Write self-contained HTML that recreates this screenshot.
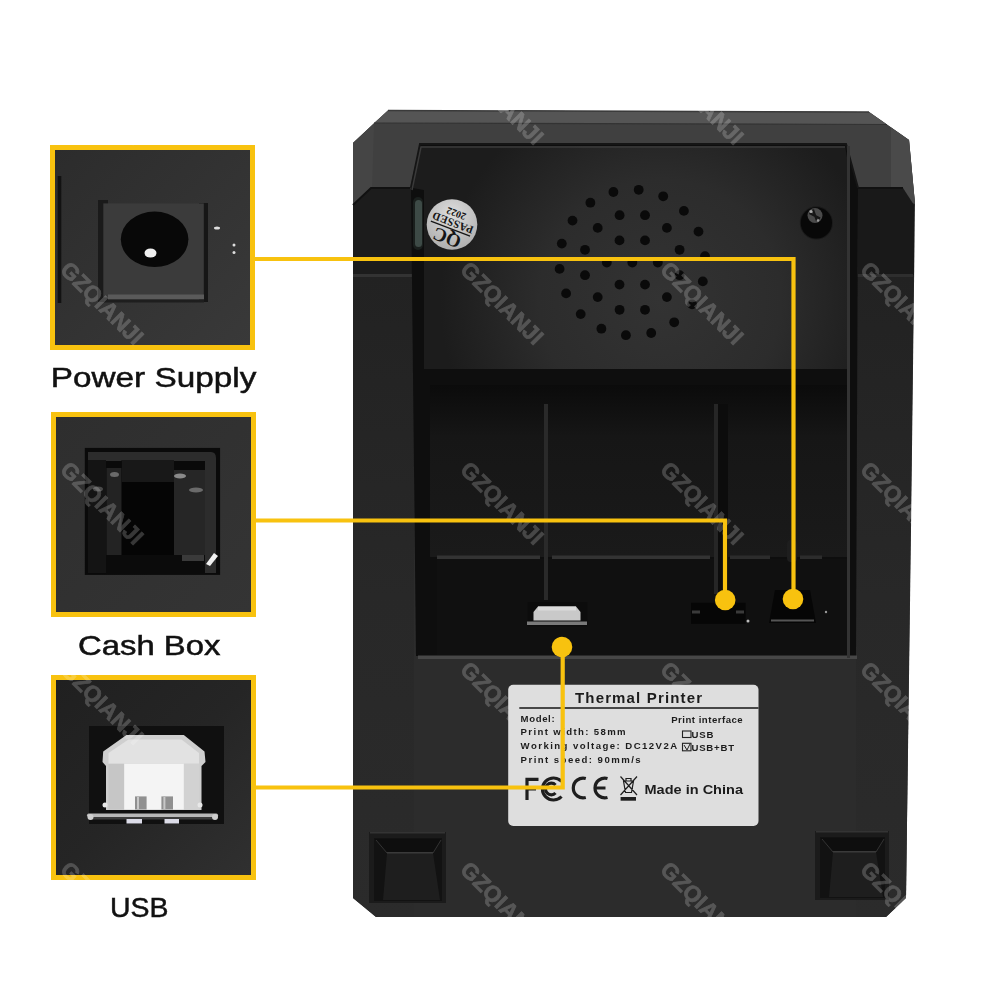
<!DOCTYPE html>
<html><head><meta charset="utf-8"><style>
html,body{margin:0;padding:0;background:#fff;width:1000px;height:1000px;overflow:hidden}
svg{display:block}
</style></head><body>
<svg width="1000" height="1000" viewBox="0 0 1000 1000">
<defs>
<linearGradient id="gCol" gradientUnits="userSpaceOnUse" x1="0" y1="275" x2="0" y2="917">
<stop offset="0" stop-color="#222"/><stop offset="0.5" stop-color="#282828"/><stop offset="1" stop-color="#2b2b2b"/>
</linearGradient>
<radialGradient id="gPanel" gradientUnits="userSpaceOnUse" cx="660" cy="300" r="220" fx="660" fy="300">
<stop offset="0" stop-color="#333333"/><stop offset="0.55" stop-color="#2c2c2c"/><stop offset="1" stop-color="#1c1c1c"/>
</radialGradient>
<linearGradient id="gFloor" x1="0" y1="0" x2="0" y2="1">
<stop offset="0" stop-color="#0b0b0b"/><stop offset="0.3" stop-color="#161616"/><stop offset="1" stop-color="#1a1a1a"/>
</linearGradient>
<radialGradient id="gQC" cx="0.5" cy="0.3" r="0.8">
<stop offset="0" stop-color="#dedede"/><stop offset="1" stop-color="#a8a8a8"/>
</radialGradient>
<linearGradient id="gIn1" x1="0" y1="0" x2="1" y2="1">
<stop offset="0" stop-color="#2c2c2c"/><stop offset="1" stop-color="#393939"/>
</linearGradient>
<linearGradient id="gIn2" x1="0" y1="0" x2="1" y2="1">
<stop offset="0" stop-color="#2e2e2e"/><stop offset="1" stop-color="#343434"/>
</linearGradient>
<linearGradient id="gIn3" x1="0" y1="0" x2="1" y2="1">
<stop offset="0" stop-color="#202020"/><stop offset="0.5" stop-color="#252525"/><stop offset="1" stop-color="#303030"/>
</linearGradient>
</defs>
<rect width="1000" height="1000" fill="#ffffff"/>
<polygon points="388,110.5 869,112 909,140 915,204 911,530 906,898 886,917 376,917 353,898 353,143" fill="#2c2c2c"/><polygon points="353,204 353,143 388,110.5 869,112 909,140 915,204 905,188 858,188 846,144 420,144 410,188 372,188" fill="#404040"/><polygon points="388,110.5 869,112 887,124.6 374,123" fill="#555555"/><polyline points="374,123 887,124.5" stroke="#333" stroke-width="1.2" fill="none"/><polyline points="388,110.5 869,112" stroke="#3a3a3a" stroke-width="1.5" fill="none"/><polygon points="353,204 353,143 374,123.2 372,188" fill="#454545"/><polygon points="891,127.5 909,140 915,204 891,195" fill="#4a4a4a"/><polygon points="353,205 371,188 410,188 413,194 413,275 353,275" fill="#1c1c1c"/><polyline points="353,205 371,188 410,188" stroke="#111" stroke-width="2" fill="none"/><polygon points="858,188 903,188 914,205 914,275 858,275" fill="#191919"/><polyline points="858,188 903,188" stroke="#111" stroke-width="2" fill="none"/><polygon points="353,275 414,275 414,917 376,917 353,898" fill="url(#gCol)"/><rect x="353" y="274" width="61" height="3" fill="#333"/><polygon points="856,275 913.8,275 906,898 886,917 856,917" fill="url(#gCol)"/><rect x="856" y="274" width="57" height="3" fill="#2e2e2e"/><polygon points="420,144 846,144 858,188 856,656 416,656 411,188" fill="#0e0e0e"/><polyline points="411,188 420,144 846,144 858,188" stroke="#151515" stroke-width="2" fill="none"/><polygon points="421,146 845,146 850,175 848,369 424,369 424,190 413,188" fill="url(#gPanel)"/><polyline points="412,190 421,147 845,147" stroke="#3a3a3a" stroke-width="1.5" fill="none"/><rect x="413" y="197" width="10" height="53" rx="5" fill="#1a1f1d"/><rect x="415" y="200" width="7" height="47" rx="3.5" fill="#3d4a46"/><rect x="430" y="385" width="417" height="172" fill="url(#gFloor)"/><rect x="437" y="559" width="410" height="96" fill="#101010"/><rect x="437" y="555.5" width="103" height="3.5" fill="#333"/><rect x="552" y="555.5" width="158" height="3.5" fill="#333"/><rect x="730" y="555.5" width="40" height="3.5" fill="#2c2c2c"/><rect x="800" y="555.5" width="22" height="3.5" fill="#2c2c2c"/><rect x="787" y="540" width="10" height="22" rx="4" fill="#1e1e1e"/><rect x="544" y="404" width="4" height="196" fill="#2a2a2a"/><rect x="714" y="404" width="4" height="190" fill="#262626"/><rect x="718" y="404" width="10" height="200" fill="#0c0c0c"/><rect x="418" y="655.5" width="439" height="3.5" fill="#474747"/><rect x="847" y="146" width="3" height="512" fill="#333"/><circle cx="632.3" cy="262.5" r="4.9" fill="#0a0a0a"/><circle cx="657.8" cy="262.5" r="4.9" fill="#0a0a0a"/><circle cx="645.0" cy="284.6" r="4.9" fill="#0a0a0a"/><circle cx="619.5" cy="284.6" r="4.9" fill="#0a0a0a"/><circle cx="606.8" cy="262.5" r="4.9" fill="#0a0a0a"/><circle cx="619.5" cy="240.4" r="4.9" fill="#0a0a0a"/><circle cx="645.0" cy="240.4" r="4.9" fill="#0a0a0a"/><circle cx="679.6" cy="275.2" r="4.9" fill="#0a0a0a"/><circle cx="666.9" cy="297.1" r="4.9" fill="#0a0a0a"/><circle cx="645.0" cy="309.8" r="4.9" fill="#0a0a0a"/><circle cx="619.6" cy="309.8" r="4.9" fill="#0a0a0a"/><circle cx="597.7" cy="297.1" r="4.9" fill="#0a0a0a"/><circle cx="585.0" cy="275.2" r="4.9" fill="#0a0a0a"/><circle cx="585.0" cy="249.8" r="4.9" fill="#0a0a0a"/><circle cx="597.7" cy="227.9" r="4.9" fill="#0a0a0a"/><circle cx="619.6" cy="215.2" r="4.9" fill="#0a0a0a"/><circle cx="645.0" cy="215.2" r="4.9" fill="#0a0a0a"/><circle cx="666.9" cy="227.9" r="4.9" fill="#0a0a0a"/><circle cx="679.6" cy="249.8" r="4.9" fill="#0a0a0a"/><circle cx="705.0" cy="256.1" r="4.9" fill="#0a0a0a"/><circle cx="702.8" cy="281.4" r="4.9" fill="#0a0a0a"/><circle cx="692.1" cy="304.4" r="4.9" fill="#0a0a0a"/><circle cx="674.2" cy="322.3" r="4.9" fill="#0a0a0a"/><circle cx="651.2" cy="333.0" r="4.9" fill="#0a0a0a"/><circle cx="625.9" cy="335.2" r="4.9" fill="#0a0a0a"/><circle cx="601.4" cy="328.7" r="4.9" fill="#0a0a0a"/><circle cx="580.7" cy="314.1" r="4.9" fill="#0a0a0a"/><circle cx="566.1" cy="293.4" r="4.9" fill="#0a0a0a"/><circle cx="559.6" cy="268.9" r="4.9" fill="#0a0a0a"/><circle cx="561.8" cy="243.6" r="4.9" fill="#0a0a0a"/><circle cx="572.5" cy="220.6" r="4.9" fill="#0a0a0a"/><circle cx="590.4" cy="202.7" r="4.9" fill="#0a0a0a"/><circle cx="613.4" cy="192.0" r="4.9" fill="#0a0a0a"/><circle cx="638.7" cy="189.8" r="4.9" fill="#0a0a0a"/><circle cx="663.2" cy="196.3" r="4.9" fill="#0a0a0a"/><circle cx="683.9" cy="210.9" r="4.9" fill="#0a0a0a"/><circle cx="698.5" cy="231.6" r="4.9" fill="#0a0a0a"/><circle cx="452" cy="224.5" r="25.3" fill="url(#gQC)"/><g transform="rotate(201 452 224.5)" font-family="Liberation Serif" fill="#151515" text-anchor="middle"><text x="452" y="216.5" font-size="19" font-weight="bold">QC</text><rect x="431" y="219.5" width="42" height="1.3"/><text x="452" y="230" font-size="11" font-weight="bold" letter-spacing="0.3">PASSED</text><text x="452" y="239.5" font-size="10" font-weight="bold">2022</text></g><circle cx="816.4" cy="222.9" r="16.6" fill="#1a1a1a"/><circle cx="816.4" cy="222.9" r="15.6" fill="#080808"/><circle cx="815" cy="215.5" r="7.5" fill="#4a4a4a"/><path d="M809.5 213 L820 218.5 M813 209.5 L817 221" stroke="#161616" stroke-width="2.2"/><circle cx="811" cy="211.5" r="1.5" fill="#aaa"/><circle cx="818" cy="220.5" r="1.3" fill="#999"/><rect x="527.5" y="602" width="60" height="24.5" fill="#0c0c0c"/><polygon points="533.5,612 538,606.5 576,606.5 580.5,612 580.5,620.5 533.5,620.5" fill="#c9c9c9"/><rect x="538" y="606.5" width="38" height="4" fill="#dcdcdc"/><rect x="527" y="621.5" width="60" height="3.5" fill="#7a7a7a"/><rect x="691" y="602.8" width="54.6" height="21" fill="#060606"/><rect x="692" y="610.5" width="8" height="3" fill="#3a3a3a"/><rect x="736" y="610.5" width="8" height="3" fill="#3a3a3a"/><polygon points="775,590 810,590 816,623 769,623" fill="#060606"/><rect x="771" y="619.5" width="43" height="2" fill="#555"/><circle cx="748" cy="621" r="1.5" fill="#bbb"/><circle cx="826" cy="612" r="1.2" fill="#999"/><rect x="369" y="832" width="77" height="71" fill="#1b1b1b"/><rect x="370" y="832" width="75" height="1.5" fill="#343434"/><rect x="374" y="838" width="68" height="63" fill="#121212"/><polygon points="375,839 441,839 433,853 387,853" fill="#0e0e0e"/><polygon points="387,853 433,853 440,900 383,900" fill="#1e1e1e"/><rect x="387" y="852" width="46" height="1.5" fill="#3a3a3a"/><path d="M376 840 L387 853 M441 840 L433 853" stroke="#333" stroke-width="1"/><rect x="815" y="831" width="74" height="69" fill="#1b1b1b"/><rect x="816" y="831" width="72" height="1.5" fill="#343434"/><rect x="820" y="837" width="65" height="61" fill="#121212"/><polygon points="821,838 884,838 876,852 833,852" fill="#0e0e0e"/><polygon points="833,852 876,852 883,897 829,897" fill="#1e1e1e"/><rect x="833" y="851" width="43" height="1.5" fill="#3a3a3a"/><path d="M822 839 L833 852 M884 839 L876 852" stroke="#333" stroke-width="1"/>
<rect x="50" y="145" width="205" height="205" fill="#f8c20f"/><rect x="55" y="150" width="195" height="195" fill="url(#gIn1)"/><rect x="51" y="412" width="205" height="205" fill="#f8c20f"/><rect x="56" y="417" width="195" height="195" fill="url(#gIn2)"/><rect x="51" y="675" width="205" height="205" fill="#f8c20f"/><rect x="56" y="680" width="195" height="195" fill="url(#gIn3)"/><rect x="98" y="200" width="10" height="102" fill="#1a1a1a"/><rect x="199" y="203" width="9" height="99" fill="#161616"/><rect x="103.3" y="203.4" width="100.5" height="94" fill="#3b3b3b"/><rect x="108" y="294.5" width="96" height="5" fill="#5a5a5a"/><rect x="104" y="299.5" width="100" height="3" fill="#1e1e1e"/><ellipse cx="154.6" cy="239.3" rx="33.8" ry="27.7" fill="#080808"/><ellipse cx="150.5" cy="253" rx="6" ry="4.5" fill="#f0f0f0"/><rect x="57.7" y="176" width="3.6" height="127" fill="#121212"/><ellipse cx="217" cy="228" rx="3" ry="1.5" fill="#ddd"/><circle cx="234" cy="245" r="1.5" fill="#ddd"/><circle cx="234" cy="252.6" r="1.5" fill="#ddd"/><rect x="84.8" y="447.9" width="135.3" height="127" fill="#0a0a0a"/><path d="M88 452 H211 Q216 452 216 458 V573 H205 V461 H88 Z" fill="#2c2c2c"/><rect x="88" y="460" width="18" height="113" fill="#141414"/><rect x="106.5" y="468" width="15.2" height="106" fill="#232323"/><rect x="121.7" y="460" width="52.3" height="95.5" fill="#050505"/><rect x="121.7" y="460" width="52.3" height="22" fill="#181818"/><rect x="174" y="470" width="31" height="90" fill="#262626"/><rect x="106" y="555" width="99" height="19" fill="#0b0b0b"/><ellipse cx="114.5" cy="474.5" rx="4.5" ry="2.5" fill="#6a6a6a"/><ellipse cx="98" cy="489" rx="5" ry="2.5" fill="#4a4a4a"/><ellipse cx="180" cy="476" rx="6" ry="2.5" fill="#8a8a8a"/><ellipse cx="196" cy="490" rx="7" ry="2.5" fill="#6a6a6a"/><rect x="182" y="555" width="22" height="6" fill="#3a3a3a"/><path d="M206 564 L214 553 L218 556 L210 566 Z" fill="#f0f0f0"/><rect x="89" y="726" width="135" height="98" fill="#101010"/><polygon points="126.5,735 183.8,735 204.5,751.4 205.5,762 201.5,766 201.5,810 106,810 106,766 102.5,762 103.2,751.4" fill="#cfcfcf"/><polygon points="128.5,739.5 181.5,739.5 199,753 199,763.8 108.5,763.8 108.5,753" fill="#e2e2e2"/><rect x="108.5" y="763.8" width="15.7" height="45.7" fill="#c6c6c6"/><rect x="183.8" y="763.8" width="15.2" height="45.7" fill="#d2d2d2"/><rect x="124.2" y="763.8" width="59.6" height="45.7" fill="#f4f4f4"/><rect x="135" y="796.4" width="11.6" height="13.1" fill="#909090"/><rect x="161.4" y="796.4" width="11.6" height="13.1" fill="#909090"/><rect x="137" y="797" width="2" height="12" fill="#c8c8c8"/><rect x="163.4" y="797" width="2" height="12" fill="#c8c8c8"/><circle cx="105" cy="805" r="2.5" fill="#e8e8e8"/><circle cx="200" cy="805" r="2.5" fill="#e8e8e8"/><rect x="87" y="813.5" width="131" height="3.5" rx="1.7" fill="#b8b8b8"/><rect x="89" y="817" width="127" height="2.5" fill="#3c3c3c"/><circle cx="90.5" cy="817" r="3" fill="#cfcfcf"/><circle cx="215" cy="817" r="3" fill="#cfcfcf"/><rect x="126.5" y="819" width="15.5" height="4.5" fill="#dcdce8"/><rect x="164.5" y="819" width="14.5" height="4.5" fill="#dcdce8"/>
<g opacity="0.2" fill="#ffffff" stroke="#ffffff" stroke-width="0.7" font-family="Liberation Sans" font-weight="bold" font-size="22.5"><text x="59" y="71" transform="rotate(45 59 71)">GZQIANJI</text><text x="59" y="271" transform="rotate(45 59 271)">GZQIANJI</text><text x="59" y="471" transform="rotate(45 59 471)">GZQIANJI</text><text x="59" y="671" transform="rotate(45 59 671)">GZQIANJI</text><text x="59" y="871" transform="rotate(45 59 871)">GZQIANJI</text><text x="259" y="71" transform="rotate(45 259 71)">GZQIANJI</text><text x="259" y="271" transform="rotate(45 259 271)">GZQIANJI</text><text x="259" y="471" transform="rotate(45 259 471)">GZQIANJI</text><text x="259" y="671" transform="rotate(45 259 671)">GZQIANJI</text><text x="259" y="871" transform="rotate(45 259 871)">GZQIANJI</text><text x="459" y="71" transform="rotate(45 459 71)">GZQIANJI</text><text x="459" y="271" transform="rotate(45 459 271)">GZQIANJI</text><text x="459" y="471" transform="rotate(45 459 471)">GZQIANJI</text><text x="459" y="671" transform="rotate(45 459 671)">GZQIANJI</text><text x="459" y="871" transform="rotate(45 459 871)">GZQIANJI</text><text x="659" y="71" transform="rotate(45 659 71)">GZQIANJI</text><text x="659" y="271" transform="rotate(45 659 271)">GZQIANJI</text><text x="659" y="471" transform="rotate(45 659 471)">GZQIANJI</text><text x="659" y="671" transform="rotate(45 659 671)">GZQIANJI</text><text x="659" y="871" transform="rotate(45 659 871)">GZQIANJI</text><text x="859" y="71" transform="rotate(45 859 71)">GZQIANJI</text><text x="859" y="271" transform="rotate(45 859 271)">GZQIANJI</text><text x="859" y="471" transform="rotate(45 859 471)">GZQIANJI</text><text x="859" y="671" transform="rotate(45 859 671)">GZQIANJI</text><text x="859" y="871" transform="rotate(45 859 871)">GZQIANJI</text></g>
<rect x="508.2" y="684.7" width="250.3" height="141.3" rx="5" fill="#dedede"/><g font-family="Liberation Sans" fill="#1c1c1c" font-weight="bold"><text x="575" y="702.8" font-size="15" textLength="127" lengthAdjust="spacing">Thermal Printer</text><rect x="519.3" y="707.2" width="239.2" height="1.6" fill="#222"/><text x="520.6" y="721.9" font-size="9.6" textLength="34" lengthAdjust="spacing">Model:</text><text x="520.6" y="735.3" font-size="9.6" textLength="105" lengthAdjust="spacing">Print width: 58mm</text><text x="520.6" y="749" font-size="9.6" textLength="156.5" lengthAdjust="spacing">Working voltage: DC12V2A</text><text x="520.6" y="762.6" font-size="9.6" textLength="120" lengthAdjust="spacing">Print speed: 90mm/s</text><text x="671.2" y="722.5" font-size="9.6" textLength="71.5" lengthAdjust="spacing">Print interface</text><rect x="682.5" y="731" width="8.5" height="6.5" fill="none" stroke="#222" stroke-width="1.1"/><text x="691.5" y="737.5" font-size="9.6" textLength="22" lengthAdjust="spacing">USB</text><rect x="682.5" y="743.3" width="8.5" height="7.5" fill="none" stroke="#222" stroke-width="1.1"/><path d="M684 745 L687 750 L690 744" fill="none" stroke="#222" stroke-width="1"/><text x="691.5" y="751" font-size="9.6" textLength="42.5" lengthAdjust="spacing">USB+BT</text><text x="644.5" y="794.3" font-size="13.3" font-weight="bold" textLength="98.5" lengthAdjust="spacingAndGlyphs">Made in China</text></g><g fill="none" stroke="#1e1e1e" stroke-width="3.2"><path d="M527 800 V779.3 H538.5 M527 789 H536"/><path d="M561.5 781.5 A11 11 0 1 0 561.5 796.5"/><path d="M555.5 785 A5.8 5.8 0 1 0 555.5 793"/><path d="M585.8 778.45 A9.9 9.9 0 1 0 585.8 797.55"/><path d="M607.5 778.45 A9.9 9.9 0 1 0 607.5 797.55 M596 788 H605.5"/></g><g stroke="#1e1e1e" stroke-width="1.2" fill="none"><path d="M623.5 781 H633.5 L631.5 792.5 H625.5 Z M626 781 V778.5 H631 V781 M620.5 776.5 L637 795 M637 776.5 L620.5 795"/></g><rect x="620.6" y="797" width="15.4" height="3.7" fill="#1e1e1e"/>
<polyline points="255,259 793.5,259 793.5,598" fill="none" stroke="#f8c20f" stroke-width="4.2"/><polyline points="256,520.5 725,520.5 725,599" fill="none" stroke="#f8c20f" stroke-width="4.2"/><polyline points="256,787.5 562.7,787.5 562.7,647" fill="none" stroke="#f8c20f" stroke-width="4.2"/><circle cx="793" cy="599" r="10.3" fill="#f8c20f"/><circle cx="725.2" cy="600" r="10.3" fill="#f8c20f"/><circle cx="562" cy="647" r="10.3" fill="#f8c20f"/>
<g font-family="Liberation Sans" fill="#111" font-size="28" stroke="#111" stroke-width="0.5">
<text x="50.8" y="386.5" textLength="205.5" lengthAdjust="spacingAndGlyphs">Power Supply</text>
<text x="78" y="655.2" textLength="142.5" lengthAdjust="spacingAndGlyphs">Cash Box</text>
<text x="110" y="916.5" textLength="58.5" lengthAdjust="spacingAndGlyphs">USB</text>
</g>
</svg>
</body></html>
